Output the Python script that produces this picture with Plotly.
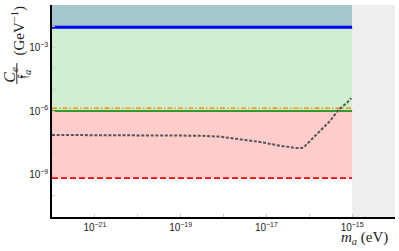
import plotly.graph_objects as go

# ---- data ----
x_min, x_max = 1e-22, 1e-14
y_min, y_max = 1e-11, 1e-1
region_x_end = 1e-15          # end of coloured constraint regions
blue_level = 9e-3             # top (blue) limit
green_level = 1.0e-6          # green limit
orange_level = 1.35e-6        # orange dash-dot limit
red_level = 6.8e-10           # red dashed limit

curve_m = [1e-22, 10**-20.18, 10**-18.55, 10**-18.08, 10**-17.61, 10**-17.15,
           10**-16.68, 10**-16.29, 10**-16.14, 10**-15.94, 10**-15.75,
           10**-15.51, 10**-15.32, 10**-15.12, 10**-15.02]
curve_c = [10**-7.13, 10**-7.14, 10**-7.165, 10**-7.21, 10**-7.32, 10**-7.46,
           10**-7.64, 10**-7.75, 10**-7.73, 10**-7.33, 10**-6.98,
           10**-6.46, 10**-5.95, 10**-5.61, 10**-5.39]

x_tickvals = [1e-21, 1e-19, 1e-17, 1e-15]
x_ticktext = ["10<sup>\u221221</sup>", "10<sup>\u221219</sup>",
              "10<sup>\u221217</sup>", "10<sup>\u221215</sup>"]
x_minorvals = [10.0**e for e in range(-22, -13)]
y_tickvals = [1e-9, 1e-6, 1e-3]
y_ticktext = ["10<sup>\u22129</sup>", "10<sup>\u22126</sup>", "10<sup>\u22123</sup>"]
y_minorvals = [10.0**e for e in range(-11, 0)]

fig = go.Figure()

def band(x0, x1, y0, y1, color):
    fig.add_trace(go.Scatter(x=[x0, x1, x1, x0, x0], y=[y0, y0, y1, y1, y0],
                             mode="lines", fill="toself", fillcolor=color,
                             line=dict(width=0), hoverinfo="skip", showlegend=False))

band(x_min, region_x_end, blue_level, y_max, "#a5c6ca")
band(x_min, region_x_end, green_level, blue_level, "#d0eed0")
band(x_min, region_x_end, red_level, green_level, "#ffcccc")
band(region_x_end, x_max, y_min, y_max, "#eeeeee")

def hline(level, color, width, dash):
    fig.add_trace(go.Scatter(x=[x_min, region_x_end], y=[level, level], mode="lines",
                             line=dict(color=color, width=width, dash=dash),
                             showlegend=False))

hline(red_level, "#ff0000", 1.6, "6px,3px")
hline(green_level, "#339933", 2, "solid")
hline(orange_level, "#ff8c00", 1.6, "5px,2px,1.5px,2px")
hline(blue_level, "#0000ff", 3, "solid")

fig.add_trace(go.Scatter(x=curve_m, y=curve_c, mode="lines",
                         line=dict(color="#555555", width=2, dash="3px,1.7px"),
                         showlegend=False))

tickfont = dict(family="Liberation Sans, Arial, sans-serif", size=10, color="#222")
common = dict(ticks="inside", ticklen=3, tickcolor="#cccccc", tickwidth=1,
              showgrid=False, zeroline=False, showline=True, linecolor="black",
              linewidth=1.5, tickfont=tickfont)
fig.update_xaxes(type="log", range=[-22, -14], tickvals=x_tickvals, ticktext=x_ticktext,
                 minor=dict(tickvals=x_minorvals, ticks="inside", ticklen=3,
                            tickcolor="#cccccc", showgrid=False), **common)
fig.update_yaxes(type="log", range=[-11, -1], tickvals=y_tickvals, ticktext=y_ticktext,
                 minor=dict(tickvals=y_minorvals, ticks="inside", ticklen=3,
                            tickcolor="#cccccc", showgrid=False), **common)

serif = "Liberation Serif, DejaVu Serif, serif"
fig.add_annotation(xref="paper", yref="paper", showarrow=False,
                   x=0.912, y=-0.152, xanchor="center", yanchor="bottom",
                   text="<i>m<sub>a</sub></i> (eV)",
                   font=dict(family=serif, size=15, color="#222"))
ann = [
    dict(x=-0.122, y=0.672, text="<i>C<sub>e</sub></i>", textangle=-90,
         font=dict(family=serif, size=16, color="#222")),
    dict(x=-0.083, y=0.672, text="\U0001D523<sub><i>a</i></sub>", textangle=-90,
         font=dict(family=serif, size=15, color="#222")),
    dict(x=-0.099, y=0.88, text="(GeV<sup>\u22121</sup>)", textangle=-90,
         font=dict(family=serif, size=15, color="#222")),
]
for a in ann:
    fig.add_annotation(xref="paper", yref="paper", showarrow=False,
                       xanchor="center", yanchor="middle", **a)

fig.add_shape(type="line", xref="paper", yref="paper", x0=-0.1025, x1=-0.1025,
              y0=0.628, y1=0.726, line=dict(color="#222", width=1))

fig.update_layout(width=399, height=251, autosize=False,
                  margin=dict(l=52, r=4, t=5, b=34),
                  plot_bgcolor="white", paper_bgcolor="white")

fig.write_html("out.html", config={"displayModeBar": False},
               post_script="document.body.style.margin='0px';document.body.style.overflow='hidden';")
